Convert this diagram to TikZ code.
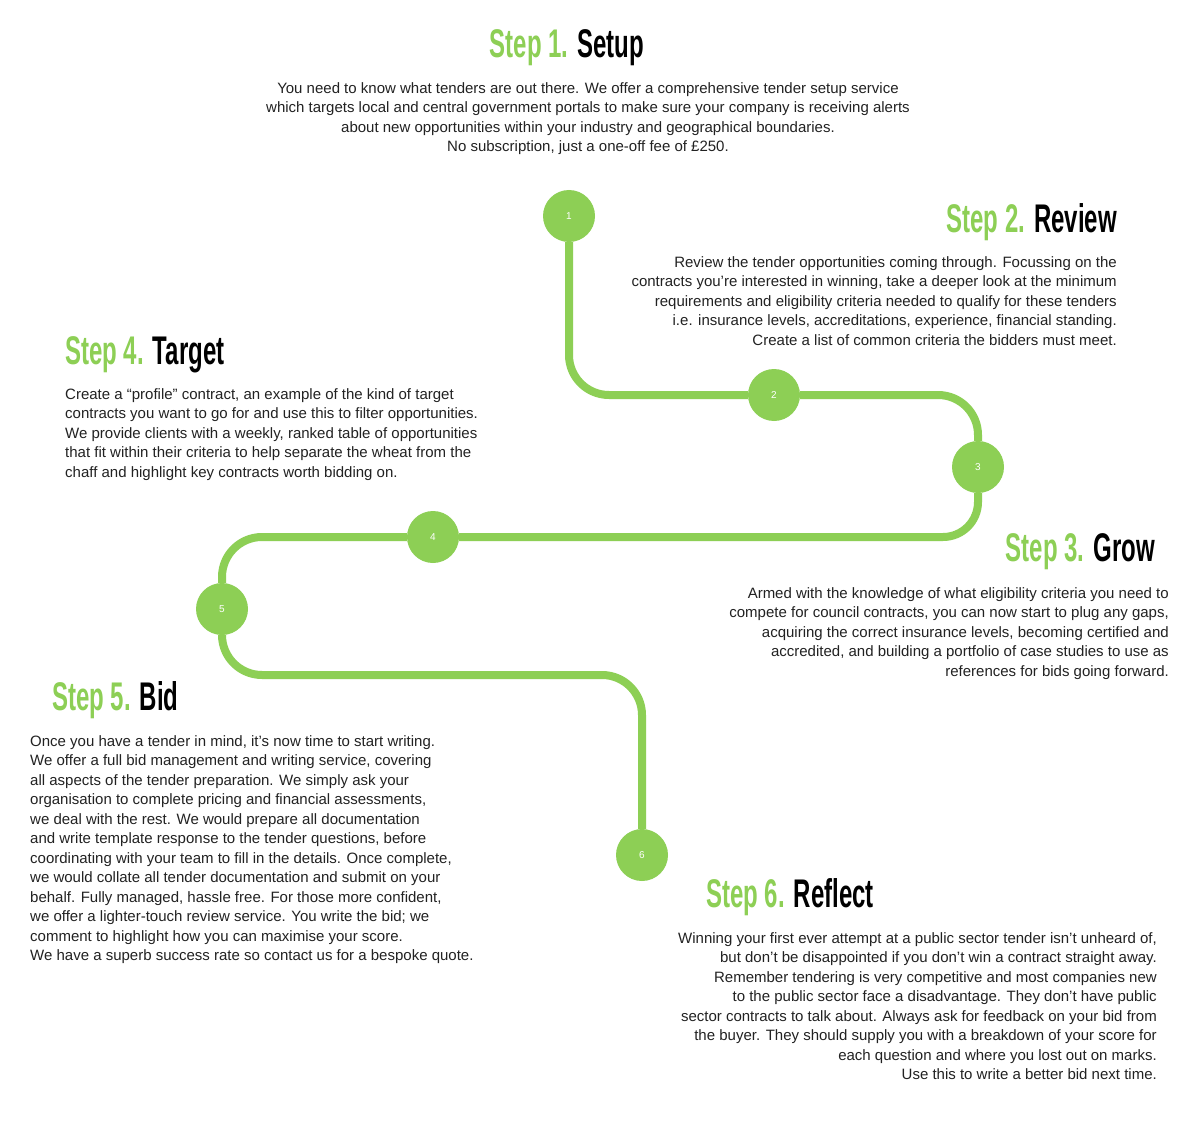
\documentclass[tikz,border=0pt]{standalone}
\usepackage{fontspec}
\setmainfont{Liberation Sans}
\usepackage{graphicx}
\definecolor{grn}{HTML}{8DCF55}
\definecolor{txt}{HTML}{222222}
\newcommand{\stephead}[2]{\scalebox{0.6}[1]{\fontsize{40}{40}\selectfont\bfseries\textcolor{grn}{Step #1.} \textcolor{black}{#2}}}
\begin{document}
\begin{tikzpicture}[x=1pt,y=-1pt,
  body/.style={inner sep=0pt,font=\fontsize{15}{19.5}\selectfont,text=txt},
  head/.style={inner sep=0pt},
  dot/.style={circle,fill=grn,minimum size=52pt,inner sep=0pt,text=white,font=\scalebox{0.6}[1]{\fontsize{34}{34}\selectfont\bfseries}}]
\fill[white] (0,0) rectangle (1200,1134);
\node (n1) [dot] at (569,216) {1};
\node (n2) [dot] at (774,395) {2};
\node (n3) [dot] at (978,467) {3};
\node (n4) [dot] at (433,537) {4};
\node (n5) [dot] at (222,609) {5};
\node (n6) [dot] at (642,855) {6};
\begin{scope}[on background layer/.style={}]
\end{scope}
\draw[grn,line width=8pt,rounded corners=40pt]
  (n1.south) -- (569,395) -- (n2.west);
\draw[grn,line width=8pt,rounded corners=40pt]
  (n2.east) -- (978,395) -- (n3.north);
\draw[grn,line width=8pt,rounded corners=35pt]
  (n3.south) -- (978,537) -- (n4.east);
\draw[grn,line width=8pt,rounded corners=40pt]
  (n4.west) -- (222,537) -- (n5.north);
\draw[grn,line width=8pt,rounded corners=40pt]
  (n5.south) -- (222,675) -- (642,675) -- (n6.north);
\node (h1) [head] at (567,48) {\stephead{1}{Setup}};
\node (p1) [body,align=center,anchor=north] at (588,82) {You need to know what tenders are out there. We offer a comprehensive tender setup service\\which targets local and central government portals to make sure your company is receiving alerts\\about new opportunities within your industry and geographical boundaries.\\No subscription, just a one-off fee of £250.};
\node (h2) [head,anchor=east] at (1117,222) {\stephead{2}{Review}};
\node (p2) [body,align=right,anchor=north east] at (1117,256) {Review the tender opportunities coming through. Focussing on the\\contracts you’re interested in winning, take a deeper look at the minimum\\requirements and eligibility criteria needed to qualify for these tenders\\i.e. insurance levels, accreditations, experience, financial standing.\\Create a list of common criteria the bidders must meet.};
\node (h4) [head,anchor=west] at (65,355) {\stephead{4}{Target}};
\node (p4) [body,align=left,anchor=north west] at (65,388) {Create a “profile” contract, an example of the kind of target\\contracts you want to go for and use this to filter opportunities.\\We provide clients with a weekly, ranked table of opportunities\\that fit within their criteria to help separate the wheat from the\\chaff and highlight key contracts worth bidding on.};
\node (h3) [head,anchor=east] at (1155,552) {\stephead{3}{Grow}};
\node (p3) [body,align=right,anchor=north east] at (1169,587) {Armed with the knowledge of what eligibility criteria you need to\\compete for council contracts, you can now start to plug any gaps,\\acquiring the correct insurance levels, becoming certified and\\accredited, and building a portfolio of case studies to use as\\references for bids going forward.};
\node (h5) [head,anchor=west] at (52,700) {\stephead{5}{Bid}};
\node (p5) [body,align=left,anchor=north west] at (30,735) {Once you have a tender in mind, it’s now time to start writing.\\We offer a full bid management and writing service, covering\\all aspects of the tender preparation. We simply ask your\\organisation to complete pricing and financial assessments,\\we deal with the rest. We would prepare all documentation\\and write template response to the tender questions, before\\coordinating with your team to fill in the details. Once complete,\\we would collate all tender documentation and submit on your\\behalf. Fully managed, hassle free. For those more confident,\\we offer a lighter-touch review service. You write the bid; we\\comment to highlight how you can maximise your score.\\We have a superb success rate so contact us for a bespoke quote.};
\node (h6) [head,anchor=west] at (706,897) {\stephead{6}{Reflect}};
\node (p6) [body,align=right,anchor=north east] at (1157,932) {Winning your first ever attempt at a public sector tender isn’t unheard of,\\but don’t be disappointed if you don’t win a contract straight away.\\Remember tendering is very competitive and most companies new\\to the public sector face a disadvantage. They don’t have public\\sector contracts to talk about. Always ask for feedback on your bid from\\the buyer. They should supply you with a breakdown of your score for\\each question and where you lost out on marks.\\Use this to write a better bid next time.};
\end{tikzpicture}
\end{document}
